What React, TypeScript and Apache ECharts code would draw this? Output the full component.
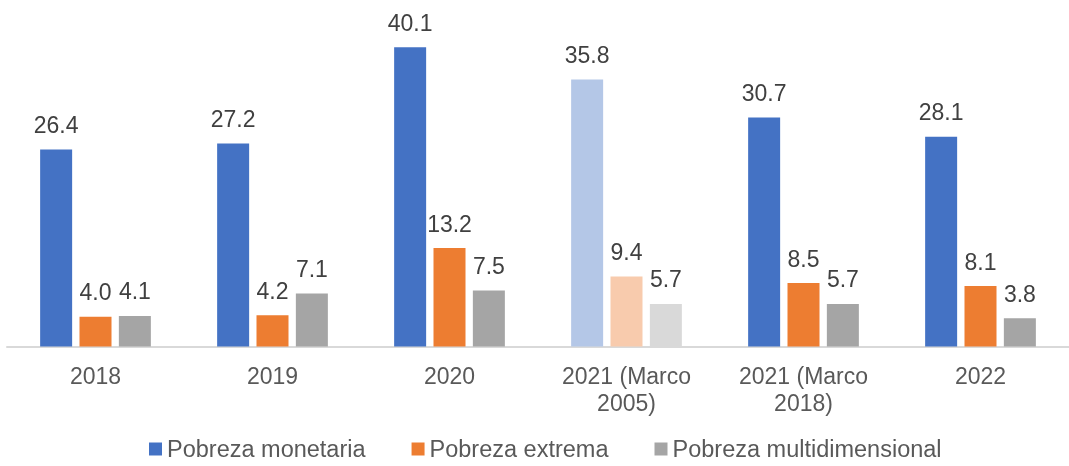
import React, { useEffect, useRef } from "react";
import * as echarts from "echarts";

const categories = ["2018", "2019", "2020", "2021 (Marco\n2005)", "2021 (Marco\n2018)", "2022"];
const monetaria = [26.4, 27.2, 40.1, 35.8, 30.7, 28.1];
const extrema = [4.0, 4.2, 13.2, 9.4, 8.5, 8.1];
const multidimensional = [4.1, 7.1, 7.5, 5.7, 5.7, 3.8];
const seriesNames = ["Pobreza monetaria", "Pobreza extrema", "Pobreza multidimensional"];
const mainColors = ["#4472C4", "#ED7D31", "#A5A5A5"];
const lightColors = ["#B4C7E7", "#F8CBAD", "#D9D9D9"];
const lightIndex = 3;

export default function App() {
  const ref = useRef<HTMLDivElement>(null);
  useEffect(() => {
    document.body.style.margin = "0";
    const chart = echarts.init(ref.current!, null, { renderer: "svg" });
    const datasets = [monetaria, extrema, multidimensional];
    chart.setOption({
      animation: false,
      textStyle: { fontFamily: "Liberation Sans, Arial, sans-serif" },
      grid: { left: 7, width: 1073, top: 10.8, height: 335.7 },
      legend: {
        top: 437,
        left: 144,
        padding: [0, 5, 0, 5],
        itemWidth: 13,
        itemHeight: 13,
        itemGap: 46,
        icon: "rect",
        textStyle: { fontSize: 23.5, color: "#595959", lineHeight: 24, padding: [0, 0, 0, 0] },
        data: seriesNames,
      },
      xAxis: {
        type: "category",
        data: categories,
        axisLine: { lineStyle: { color: "#D9D9D9", width: 2 } },
        axisTick: { show: false },
        axisLabel: { fontSize: 23, color: "#595959", margin: 16, lineHeight: 27, interval: 0 },
      },
      yAxis: {
        type: "value",
        min: 0,
        max: 45,
        show: false,
        splitLine: { show: false },
      },
      series: datasets.map((d, si) => ({
        name: seriesNames[si],
        type: "bar",
        barWidth: 32,
        barGap: "23%",
        itemStyle: { color: mainColors[si] },
        label: {
          show: true,
          position: "top",
          distance: 13,
          fontSize: 23,
          color: "#404040",
          formatter: (p: any) => p.value.toFixed(1),
        },
        data: d.map((v, i) =>
          i === lightIndex ? { value: v, itemStyle: { color: lightColors[si] } } : v
        ),
      })),
    });
    return () => chart.dispose();
  }, []);
  return (
    <div
      ref={ref}
      style={{ position: "fixed", left: 0, top: 0, width: 1069, height: 466 }}
    />
  );
}
